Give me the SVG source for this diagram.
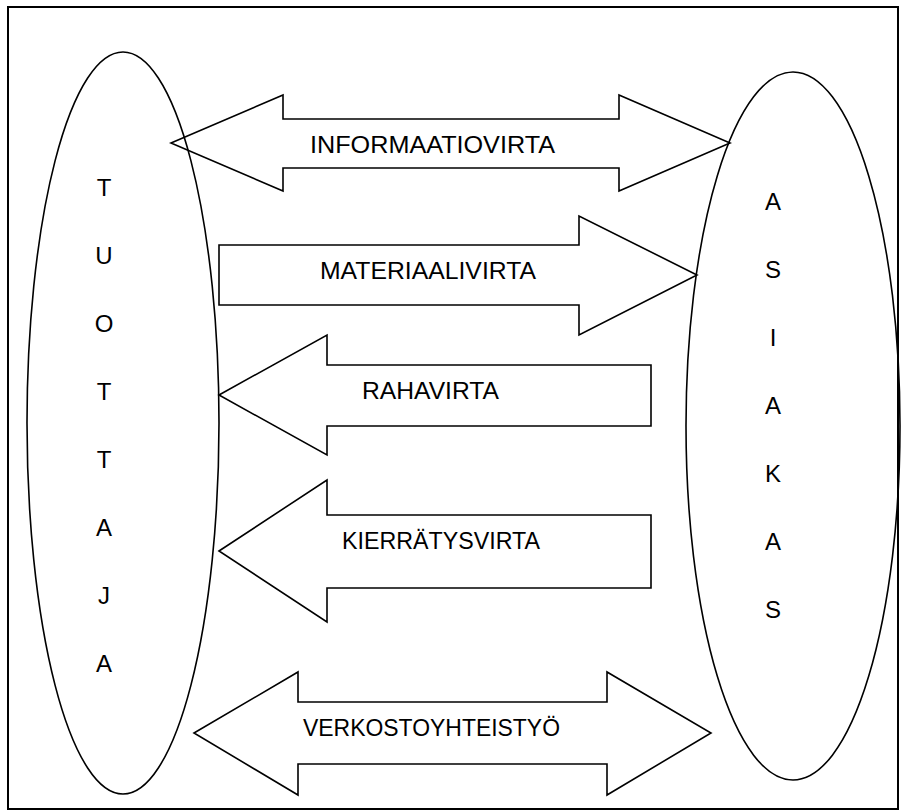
<svg xmlns="http://www.w3.org/2000/svg" width="904" height="812" viewBox="0 0 904 812">
  <style>
    .frame { fill: none; stroke: #000; stroke-width: 2; }
    .party { fill: none; stroke: #000; stroke-width: 1.6; }
    .flow { fill: none; stroke: #000; stroke-width: 1.6; stroke-linejoin: miter; }
    .lbl { font-family: "Liberation Sans", Arial, sans-serif; font-size: 24px; fill: #000; }
    .ch { font-family: "Liberation Sans", Arial, sans-serif; font-size: 24px; fill: #000; text-anchor: middle; }
  </style>

  <rect x="0" y="0" width="904" height="812" fill="#fff"/>
  <rect class="frame" x="8" y="7" width="890" height="802"/>

  <!-- flows between producer and customer -->
  <g id="connectors">
    <g id="flow-information">
      <polygon class="flow" points="171,143 283,95 283,119 619,119 619,95 730,143 619,191 619,168 283,168 283,191"/>
      <text class="lbl" x="310" y="153" textLength="245" lengthAdjust="spacingAndGlyphs">INFORMAATIOVIRTA</text>
    </g>
    <g id="flow-material">
      <polygon class="flow" points="219,245 579,245 579,216 697,275 579,335 579,305 219,305"/>
      <text class="lbl" x="320" y="279" textLength="216" lengthAdjust="spacingAndGlyphs">MATERIAALIVIRTA</text>
    </g>
    <g id="flow-money">
      <polygon class="flow" points="219,395 327,335 327,365 651,365 651,426 327,426 327,455"/>
      <text class="lbl" x="362" y="399" textLength="137" lengthAdjust="spacingAndGlyphs">RAHAVIRTA</text>
    </g>
    <g id="flow-recycling">
      <polygon class="flow" points="219,551 327,480 327,515 651,515 651,588 327,588 327,622"/>
      <text class="lbl" x="342" y="549" textLength="198" lengthAdjust="spacingAndGlyphs">KIERRÄTYSVIRTA</text>
    </g>
    <g id="flow-network">
      <polygon class="flow" points="194,733 298,672 298,702 607,702 607,672 711,733 607,795 607,764 298,764 298,795"/>
      <text class="lbl" x="303" y="736" textLength="257" lengthAdjust="spacingAndGlyphs">VERKOSTOYHTEISTYÖ</text>
    </g>
  </g>

  <!-- producer -->
  <g id="tuottaja">
    <ellipse class="party" cx="123" cy="423" rx="96" ry="371"/>
    <text class="ch" x="104" y="196">T</text>
    <text class="ch" x="104" y="264">U</text>
    <text class="ch" x="104" y="332">O</text>
    <text class="ch" x="104" y="400">T</text>
    <text class="ch" x="104" y="468">T</text>
    <text class="ch" x="104" y="536">A</text>
    <text class="ch" x="104" y="604">J</text>
    <text class="ch" x="104" y="672">A</text>
  </g>

  <!-- customer -->
  <g id="asiakas">
    <ellipse class="party" cx="793" cy="426" rx="107" ry="354"/>
    <text class="ch" x="773" y="210">A</text>
    <text class="ch" x="773" y="278">S</text>
    <text class="ch" x="773" y="346">I</text>
    <text class="ch" x="773" y="414">A</text>
    <text class="ch" x="773" y="482">K</text>
    <text class="ch" x="773" y="550">A</text>
    <text class="ch" x="773" y="618">S</text>
  </g>
</svg>
